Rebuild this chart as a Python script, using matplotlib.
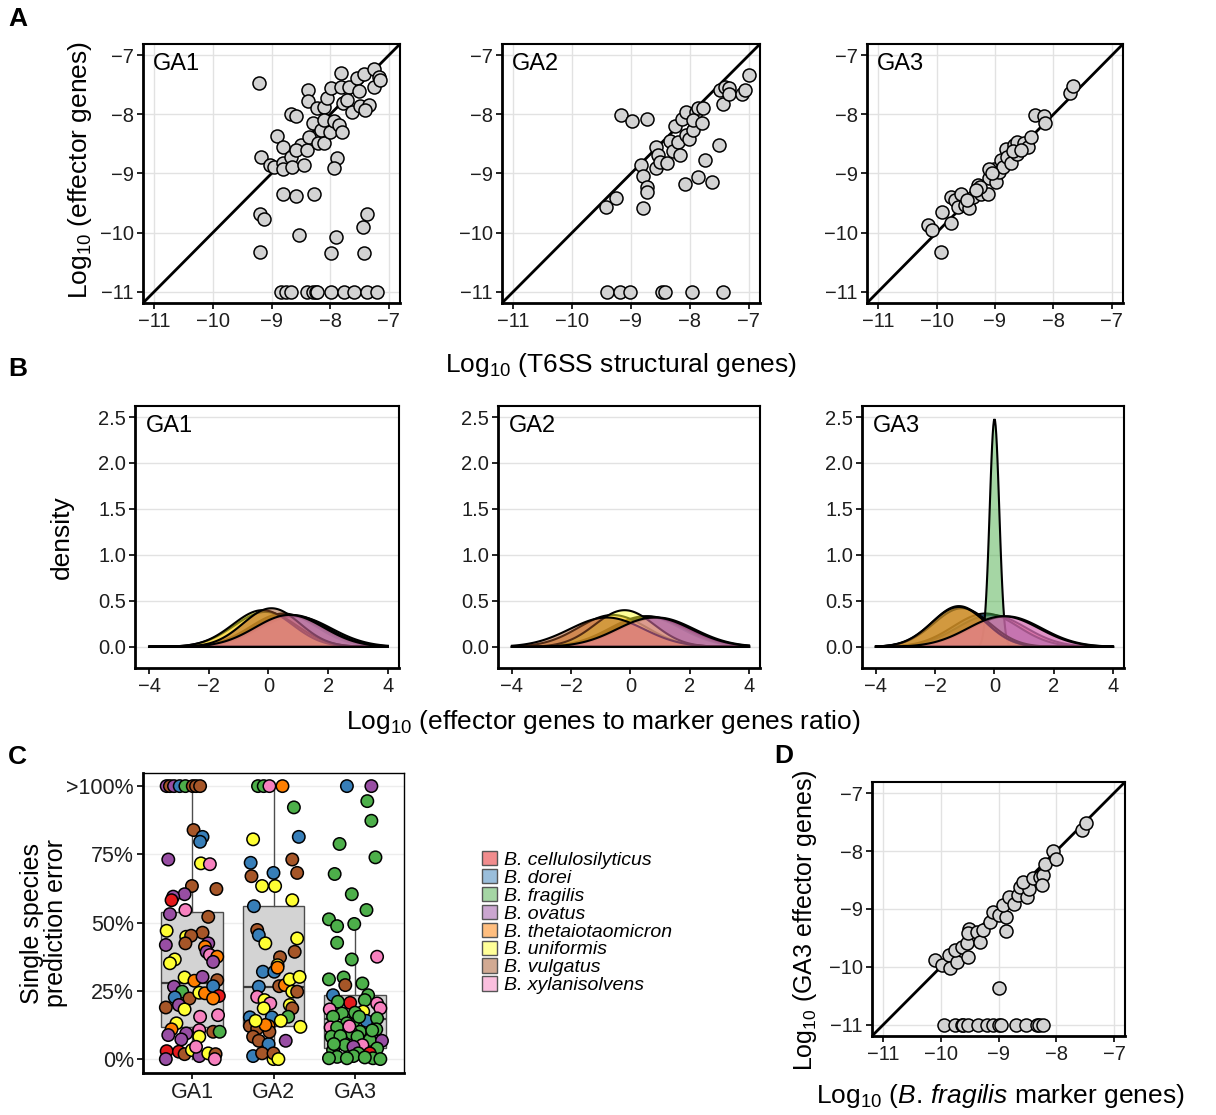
import numpy as np
import matplotlib
matplotlib.use('Agg')
import matplotlib.pyplot as plt
from matplotlib.patches import Patch
from matplotlib.colors import to_rgba

plt.rcParams['font.family'] = ['Liberation Sans', 'DejaVu Sans']
plt.rcParams['mathtext.fontset'] = 'custom'
plt.rcParams['mathtext.rm'] = 'Liberation Sans'
plt.rcParams['mathtext.it'] = 'Liberation Sans:italic'
plt.rcParams['mathtext.bf'] = 'Liberation Sans:bold'

# ---------------- data ----------------
species = ['B. cellulosilyticus', 'B. dorei', 'B. fragilis', 'B. ovatus',
           'B. thetaiotaomicron', 'B. uniformis', 'B. vulgatus', 'B. xylanisolvens']
species_code = 'RBGPOYNK'
species_color = ['#E41A1C', '#377EB8', '#4DAF4A', '#984EA3',
                 '#FF7F00', '#FFFF33', '#A65628', '#F781BF']

# A: log10 T6SS structural genes vs log10 effector genes
ga1_x = [-9.21, -9.18, -9.20, -9.12, -9.20, -9.02, -8.96, -8.90, -8.80, -8.80, -8.80, -8.80,
         -8.66, -8.65, -8.58, -8.66, -8.58, -8.50, -8.59, -8.45, -8.39, -8.36, -8.30, -8.37,
         -8.37, -8.28, -8.53, -8.22, -8.11, -8.20, -8.11, -8.16, -8.06, -7.98, -8.11, -8.00,
         -7.94, -7.85, -7.79, -7.89, -7.94, -7.98, -7.90, -7.81, -7.82, -7.78, -7.68, -7.71,
         -7.62, -7.54, -7.51, -7.49, -7.43, -7.34, -7.41, -7.44, -7.37, -7.43, -7.26, -7.26,
         -7.17, -7.15,
         -8.84, -8.76, -8.67, -8.39, -8.30, -8.25, -8.22, -7.99, -7.77, -7.60, -7.38, -7.20]
ga1_y = [-7.47, -8.72, -9.69, -9.77, -10.32, -8.86, -8.89, -8.37, -8.55, -8.83, -8.92, -9.35,
         -8.72, -8.89, -9.38, -8.00, -8.02, -8.52, -8.61, -8.86, -8.61, -8.38, -8.14, -7.59,
         -7.77, -9.35, -10.04, -7.90, -7.87, -8.49, -8.49, -8.26, -7.73, -7.56, -8.10, -8.30,
         -8.11, -8.18, -8.30, -8.73, -8.90, -10.35, -10.07, -7.30, -7.54, -7.81, -7.54, -7.76,
         -7.96, -7.39, -7.60, -7.86, -7.31, -7.85, -7.92, -9.90, -9.68, -10.35, -7.24, -7.54,
         -7.37, -7.42,
         -11, -11, -11, -11, -11, -11, -11, -11, -11, -11, -11, -11]

ga2_x = [-9.17, -8.98, -8.73, -9.43, -9.26, -8.83, -8.80, -8.73, -8.73, -8.80, -8.57, -8.54,
         -8.57, -8.51, -8.39, -8.33, -8.29, -8.26, -8.20, -8.17, -8.14, -8.07, -8.06, -8.01,
         -7.94, -7.89, -7.87, -7.94, -7.80, -7.78, -8.08, -7.87, -7.74, -7.62, -7.51, -7.44,
         -7.49, -7.40, -7.34, -7.33, -7.11, -7.06, -7.00,
         -9.40, -9.18, -9.02, -8.47, -8.43, -7.97, -7.43]
ga2_y = [-8.01, -8.11, -8.07, -9.57, -9.41, -8.86, -9.04, -9.23, -9.32, -9.58, -8.55, -8.69,
         -8.90, -8.80, -8.83, -8.45, -8.62, -8.20, -8.46, -8.69, -8.07, -7.96, -8.35, -8.41,
         -8.27, -7.96, -7.90, -8.10, -8.15, -7.89, -9.17, -9.06, -8.77, -9.14, -8.51, -7.83,
         -7.58, -7.54, -7.55, -7.65, -7.66, -7.58, -7.34,
         -11, -11, -11, -11, -11, -11, -11]

ga3_x = [-10.15, -10.08, -9.93, -9.90, -9.75, -9.76, -9.69, -9.64, -9.58, -9.52, -9.44, -9.38,
         -9.29, -9.24, -9.12, -9.10, -9.25, -9.01, -8.98, -8.93, -8.90, -8.87, -8.81, -8.79,
         -8.73, -8.67, -8.62, -8.62, -8.51, -8.43, -8.39, -8.31, -8.16, -8.14, -7.71, -7.67,
         -9.11, -9.48, -9.33, -8.70, -8.56, -9.05]
ga3_y = [-9.87, -9.96, -10.32, -9.65, -9.83, -9.39, -9.45, -9.56, -9.34, -9.54, -9.58, -9.39,
         -9.20, -9.34, -9.34, -9.08, -9.23, -8.92, -9.14, -8.97, -8.77, -8.89, -8.58, -8.72,
         -8.83, -8.52, -8.46, -8.67, -8.49, -8.55, -8.38, -8.01, -8.03, -8.14, -7.64, -7.52,
         -8.92, -9.45, -9.28, -8.62, -8.60, -9.00]

# B: density of log10(effector / marker) per species (centre, spread)
dens_mu = {'GA1': [0.5, 0.6, 0.9, 0.8, -0.1, -0.2, 0.1, 0.7],
           'GA2': [0.5, 0.6, 0.7, 0.9, -0.6, -0.2, -0.8, 0.8],
           'GA3': [-0.1, -0.3, 0.0, 0.4, -1.1, -1.2, -1.2, 0.3]}
dens_sd = {'GA1': [1.10, 1.15, 1.20, 1.15, 1.05, 1.00, 0.95, 1.15],
           'GA2': [1.20, 1.20, 1.25, 1.25, 1.15, 1.00, 1.25, 1.25],
           'GA3': [1.15, 1.10, 0.161, 1.20, 0.95, 0.90, 0.92, 1.20]}

# C: single species prediction error (%)
c_groups = ['GA1', 'GA2', 'GA3']
ga1_jit = [-0.31, -0.27, -0.22, -0.15, -0.08, 0.01, 0.05, 0.10,
           0.02, 0.13, 0.10, -0.29, 0.11, 0.22, 0.00, 0.30, -0.09, -0.23,
           -0.25, -0.08, -0.27, 0.20, -0.31, 0.13, -0.07, -0.01, -0.08, -0.32,
           0.20, 0.16, 0.18, 0.22, 0.31, 0.26, -0.21, -0.27, -0.09, 0.03,
           0.13, 0.31, -0.22, -0.12, -0.21, -0.03, 0.09, 0.16, 0.26, 0.33,
           0.26, -0.16, -0.32, -0.09, 0.10, 0.32, -0.19, -0.25, 0.26, 0.34,
           -0.29, -0.07, 0.09, 0.09, -0.13, -0.31, -0.16, -0.09, 0.00, 0.09,
           0.20, 0.29, -0.32, 0.28, 0.05]
ga1_err = [100, 100, 100, 100, 100, 100, 100, 100,
           83.9, 81.4, 79.6, 73.1, 71.7, 71.4, 63.4, 62.3, 60.4, 59.5,
           58.2, 54.6, 53.1, 52.1, 47.0, 46.3, 44.8, 45.2, 42.4, 41.8,
           42.4, 41.1, 39.3, 38.1, 37.5, 35.6, 36.5, 35.1, 29.9, 28.7,
           30.1, 28.9, 26.5, 24.7, 22.6, 22.2, 24.3, 24.1, 26.7, 23.1,
           22.2, 19.8, 18.9, 18.2, 15.5, 16.1, 13.1, 10.9, 10.0, 10.0,
           8.8, 9.4, 10.6, 8.2, 7.2, 2.9, 2.7, 1.8, 3.3, 1.1,
           2.1, 1.8, 0.0, 0.0, 4.5]
ga1_sp = 'PNPBGNNN' + 'NBBPYKNNPP' + 'RKPNYNYNNP' + 'POPKOPYYYO' + 'PNPGBNYOBR' + \
         'OPNYKKYONG' + 'PPKYPRRNYP' + 'YNPKK'

ga2_jit = [-0.19, -0.12, -0.05, 0.11,
           -0.25, -0.28, -0.27, 0.00, -0.14, 0.02, -0.24, -0.20, -0.18, -0.10,
           -0.13, -0.18, -0.20, -0.11, -0.04, -0.12, -0.29, -0.02, -0.29, -0.20,
           -0.06, -0.25, -0.18, -0.06, -0.25, -0.14, 0.00,
           0.25, 0.31, 0.23, 0.29, 0.23, 0.29, 0.26, 0.08, 0.05, 0.01,
           0.07, 0.14, 0.20, 0.32, 0.23, 0.29, 0.20, 0.23, 0.18, 0.09,
           0.33, 0.15, 0.00, 0.06, 0.05, -0.05, -0.10, -0.22]
ga2_err = [100, 100, 100, 100,
           80.5, 71.9, 67.0, 68.2, 63.4, 63.4, 56.0, 47.3, 45.4, 42.4,
           32.0, 26.5, 22.8, 21.6, 20.4, 18.6, 15.3, 15.3, 12.1, 11.2,
           12.1, 8.2, 6.7, 5.5, 1.1, 2.1, 0.0,
           92.2, 81.4, 73.1, 68.2, 58.2, 44.2, 39.3, 37.3, 34.4, 32.0,
           26.7, 27.1, 29.2, 30.1, 24.7, 24.7, 19.8, 18.6, 15.5, 14.0,
           11.8, 6.7, 2.1, 0.0, 33.5, 10.0, 12.5, 14.0]
ga2_sp = 'GGKO' + 'YBNBYYBNBY' + 'BBKYKYBBNN' + 'ONNBBNY' + 'GBNNYYNNYB' + \
         'NOYYYNYNGY' + 'YPNYONOY'

ga3_jit = [-0.10, 0.20, 0.15, 0.20, -0.19, 0.25, -0.25, -0.04, 0.14, -0.32,
           -0.22, -0.01, -0.22, -0.04, 0.27, -0.32, -0.14, -0.12, 0.09, -0.27,
           -0.06, -0.21, 0.16, 0.12, 0.27, 0.31, 0.10, -0.16, -0.31, -0.27,
           0.14, 0.27, -0.02, -0.10, -0.30, -0.22, 0.26, 0.06, -0.04, -0.29,
           -0.18, 0.03, 0.18, 0.33, -0.12, 0.09, -0.02, 0.27, -0.27, 0.18,
           0.04, -0.22, -0.02, 0.22, 0.31, -0.32, -0.10, 0.12, 0.00, -0.07,
           0.21, -0.26, 0.05]
ga3_err = [100, 100, 94.5, 87.3, 78.8, 73.9, 67.8, 60.4, 54.6, 51.2,
           48.7, 49.5, 42.6, 36.5, 37.5, 29.2, 29.9, 27.1, 27.7, 23.4,
           20.6, 21.0, 23.4, 21.6, 20.4, 18.6, 17.4, 16.7, 18.2, 15.5,
           14.0, 14.9, 13.7, 13.1, 11.6, 11.6, 10.9, 10.0, 9.4, 8.2,
           8.4, 8.2, 7.0, 6.7, 5.1, 5.1, 4.5, 3.9, 3.3, 2.1,
           2.1, 0.8, 1.1, 0.3, 0.0, 0.3, 0.3, 0.6, 17.0, 12.0,
           10.5, 5.5, 15.5]
ga3_sp = 'BPGGGGGGGG' + 'GGGGKGGNGB' + 'RGGGKKYGKG' + 'BGGGKGGGGG' + 'GGGPGKPGGR' + \
         'GGGGGGGGGK' + 'GGG'

box_q1 = [11.7, 12.2, 4.0]
box_med = [27.8, 26.3, 14.7]
box_q3 = [53.8, 56.2, 23.4]
box_lo = [0.0, 0.0, 0.0]
box_hi = [100.0, 100.0, 48.0]

# D: log10 B. fragilis marker genes vs log10 GA3 effector genes
d_x = [-10.10, -9.98, -9.85, -9.84, -9.72, -9.75, -9.64, -9.52, -9.55, -9.51, -9.52, -9.38,
       -9.32, -9.26, -9.15, -9.09, -9.00, -8.87, -8.87, -8.93, -8.81, -8.74, -8.67, -8.63,
       -8.51, -8.48, -8.57, -8.40, -8.28, -8.23, -8.20, -8.25, -8.05, -8.01, -7.56, -7.49,
       -9.00,
       -9.95, -9.75, -9.64, -9.61, -9.52, -9.35, -9.20, -9.09, -9.00, -8.96, -8.69, -8.53,
       -8.34, -8.30, -8.23]
d_y = [-9.88, -9.97, -9.79, -10.02, -9.91, -9.71, -9.65, -9.82, -9.59, -9.34, -9.42, -9.39,
       -9.57, -9.36, -9.22, -9.05, -9.11, -9.13, -9.38, -8.93, -8.79, -8.91, -8.76, -8.62,
       -8.79, -8.65, -8.53, -8.47, -8.45, -8.42, -8.22, -8.59, -8.00, -8.13, -7.64, -7.52,
       -10.36,
       -11, -11, -11, -11, -11, -11, -11, -11, -11, -11, -11, -11, -11, -11, -11]

# ---------------- figure ----------------
W, H = 1216, 1115
fig = plt.figure(figsize=(W / 100, H / 100), dpi=100)

TICK = 14.5
TITLE = 19


def rect(l, t, r, b):
    return [l / W, 1 - b / H, (r - l) / W, (b - t) / H]


def fx(x):
    return x / W


def fy(y):
    return 1 - y / H


def style(ax, gridaxis='both', size=TICK):
    for s in ax.spines.values():
        s.set_linewidth(1.5)
        s.set_color('black')
    ax.spines['left'].set_linewidth(2)
    ax.spines['bottom'].set_linewidth(2)
    ax.tick_params(length=4.5, width=1.2, color='black', labelcolor='#1E1E1E',
                   labelsize=size, pad=2)
    ax.grid(axis=gridaxis, color='#E2E2E2', lw=1)
    ax.set_axisbelow(True)


def scatter_panel(ax, xs, ys, name=None):
    ax.axline((0, 0), slope=1, color='black', lw=2, zorder=2)
    ax.scatter(xs, ys, s=88, facecolor='#D3D3D3', edgecolor='black', lw=1.1, zorder=3)
    ax.set_xlim(-11.19, -6.81)
    ax.set_ylim(-11.19, -6.81)
    ax.set_xticks(range(-11, -6))
    ax.set_yticks(range(-11, -6))
    style(ax)
    if name:
        ax.text(0.04, 0.965, name, transform=ax.transAxes, ha='left', va='top', fontsize=17)


# Panel A
a_boxes = [(143, 44, 400, 303), (502, 44, 760, 303), (867, 44, 1123, 303)]
for bx, name, xs, ys in zip(a_boxes, c_groups, [ga1_x, ga2_x, ga3_x], [ga1_y, ga2_y, ga3_y]):
    ax = fig.add_axes(rect(*bx))
    scatter_panel(ax, xs, ys, name)

fig.text(fx(80), fy(170), r'Log$_{10}$ (effector genes)', rotation=90,
         ha='center', va='center', fontsize=TITLE)
fig.text(fx(621), fy(365), r'Log$_{10}$ (T6SS structural genes)',
         ha='center', va='center', fontsize=TITLE)

# Panel B
b_boxes = [(135, 406, 399, 668), (498, 406, 760, 668), (862, 406, 1124, 668)]
grid_x = np.linspace(-4, 4, 401)
for bx, name in zip(b_boxes, c_groups):
    ax = fig.add_axes(rect(*bx))
    for mu, sd, col in zip(dens_mu[name], dens_sd[name], species_color):
        d = np.exp(-0.5 * ((grid_x - mu) / sd) ** 2) / (sd * np.sqrt(2 * np.pi))
        ax.fill(np.r_[grid_x, grid_x[::-1]], np.r_[d, np.zeros_like(d)],
                facecolor=to_rgba(col, 0.5), edgecolor='black', lw=1.5, zorder=2)
    ax.set_xlim(-4.47, 4.37)
    ax.set_ylim(-0.23, 2.62)
    ax.set_xticks([-4, -2, 0, 2, 4])
    ax.set_yticks([0, 0.5, 1, 1.5, 2, 2.5])
    ax.set_yticklabels(['0.0', '0.5', '1.0', '1.5', '2.0', '2.5'])
    style(ax, gridaxis='y')
    ax.text(0.04, 0.965, name, transform=ax.transAxes, ha='left', va='top', fontsize=17)

fig.text(fx(62), fy(537), 'density', rotation=90, ha='center', va='center', fontsize=TITLE)
fig.text(fx(603), fy(722), r'Log$_{10}$ (effector genes to marker genes ratio)',
         ha='center', va='center', fontsize=TITLE)

# Panel C
ax = fig.add_axes(rect(143, 773, 404, 1073))
stats = [dict(q1=q1, med=md, q3=q3, whislo=lo, whishi=hi)
         for q1, md, q3, lo, hi in zip(box_q1, box_med, box_q3, box_lo, box_hi)]
ax.bxp(stats, positions=[1, 2, 3], widths=0.75, showfliers=False, showcaps=False,
       patch_artist=True,
       boxprops=dict(facecolor='#D3D3D3', edgecolor='#4D4D4D', lw=1),
       medianprops=dict(color='#3A3A3A', lw=1.6),
       whiskerprops=dict(color='#4D4D4D', lw=1), zorder=2)
code_to_color = dict(zip(species_code, species_color))
for pos, jit, err, sp in zip([1, 2, 3], [ga1_jit, ga2_jit, ga3_jit],
                             [ga1_err, ga2_err, ga3_err], [ga1_sp, ga2_sp, ga3_sp]):
    ax.scatter(pos + np.array(jit), err, s=80, c=[code_to_color[s] for s in sp],
               edgecolor='black', lw=1.1, zorder=3)
ax.set_xlim(0.4, 3.6)
ax.set_ylim(-5.1, 104.8)
ax.set_xticks([1, 2, 3])
ax.set_xticklabels(c_groups)
ax.set_yticks([0, 25, 50, 75, 100])
ax.set_yticklabels(['0%', '25%', '50%', '75%', '>100%'])
style(ax, gridaxis='y', size=15.5)
ax.spines['top'].set_linewidth(1)
ax.spines['right'].set_linewidth(1)
ax.grid(axis='y', color='#EDEDED', lw=1)
fig.text(fx(44), fy(923), 'Single species\nprediction error', rotation=90,
         ha='center', va='center', fontsize=18, linespacing=1.0)

handles = [Patch(facecolor=to_rgba(c, 0.5), edgecolor='#555555', lw=1) for c in species_color]
fig.legend(handles, species, loc='upper left', bbox_to_anchor=(fx(482), fy(851)),
           frameon=False, prop=dict(style='italic', size=14), handlelength=0.75,
           handleheight=0.75, labelspacing=0.0, handletextpad=0.4, borderpad=0,
           borderaxespad=0)

# Panel D
ax = fig.add_axes(rect(872, 782, 1125, 1036))
scatter_panel(ax, d_x, d_y)
fig.text(fx(805), fy(920), r'Log$_{10}$ (GA3 effector genes)', rotation=90,
         ha='center', va='center', fontsize=18)
fig.text(fx(1000), fy(1096), r'Log$_{10}$ ($\mathit{B.\,fragilis}$ marker genes)',
         ha='center', va='center', fontsize=TITLE)

# Panel letters
for letter, x, y in [('A', 8, 7), ('B', 8, 357), ('C', 8, 745), ('D', 774, 744)]:
    fig.text(fx(x), fy(y), letter, ha='left', va='top', fontsize=19, fontweight='bold')

fig.savefig('out.png', dpi=100)
